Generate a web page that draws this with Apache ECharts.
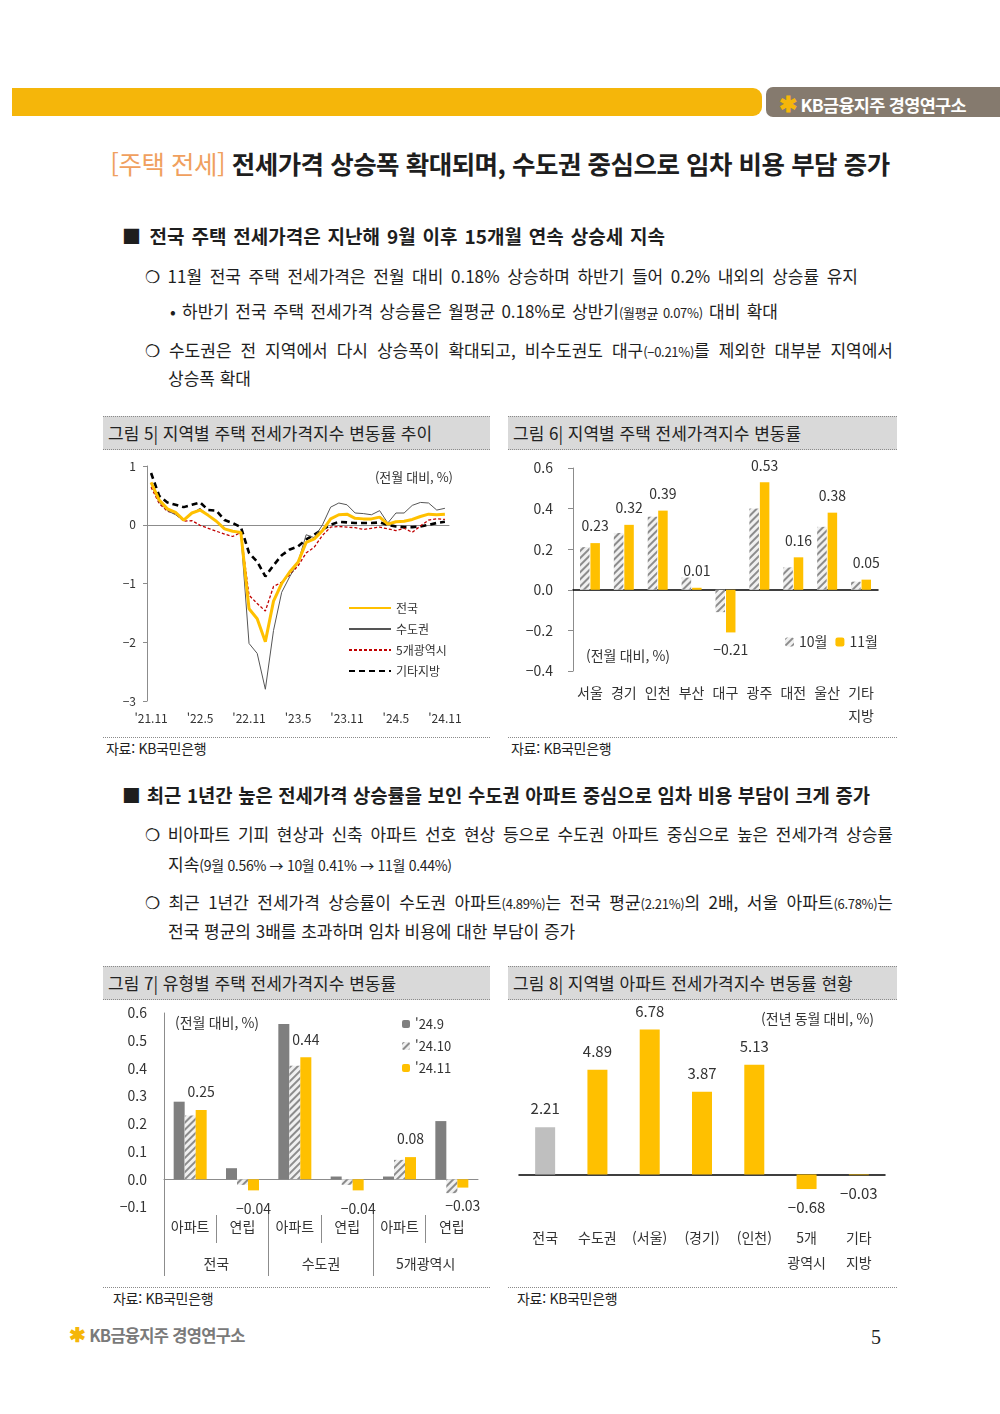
<!DOCTYPE html>
<html lang="ko">
<head>
<meta charset="utf-8">
<title>주택 전세</title>
<script src="https://cdn.jsdelivr.net/npm/echarts@6/dist/echarts.min.js"></script>
<style>
  html, body { margin: 0; padding: 0; background: #fff; }
  body {
    width: 1000px; height: 1414px; position: relative; overflow: hidden;
    font-family: "Noto Sans CJK KR", "Noto Sans", sans-serif; color: #1e1e1e;
  }
  .abs { position: absolute; white-space: nowrap; }
  .h2 { font-size: 19px; font-weight: 700; line-height: 26px; }
  .p { font-size: 17px; line-height: 24px; }
  .just { text-align: justify; text-align-last: justify; white-space: normal; }
  .p small { font-size: 13px; letter-spacing: -0.3px; }
  .cap {
    position: absolute; height: 34px; line-height: 32px; background: #d9d9d9;
    border-top: 1px dotted #8a8a8a; border-bottom: 1px dotted #8a8a8a;
    font-size: 17px; padding-left: 5px; box-sizing: border-box; color: #222;
  }
  .rule { position: absolute; height: 0; border-top: 1px dotted #8a8a8a; }
  .src { position: absolute; font-size: 14px; line-height: 18px; color: #222; letter-spacing: -0.3px; }
  .chart { position: absolute; }
</style>
</head>
<body>

<!-- header -->
<div class="abs" style="left:12px;top:88px;width:750px;height:28px;background:#F5B60A;border-radius:0 9px 9px 0"></div>
<div class="abs" style="left:766px;top:87px;width:234px;height:30px;background:#857A6E;border-radius:7px 0 0 7px"></div>
<div class="abs" style="left:779px;top:87px;line-height:30px;font-size:17.5px;font-weight:700;color:#fff;letter-spacing:-0.7px">
  <span style="color:#F5B60A;font-size:22px">✱</span> KB금융지주 경영연구소</div>

<!-- title -->
<div class="abs" style="left:0;top:145px;width:1000px;text-align:center;font-size:25.5px;font-weight:700;line-height:36px;letter-spacing:-0.5px">
  <span style="color:#F0A05E;font-weight:400">[주택 전세]</span> 전세가격 상승폭 확대되며, 수도권 중심으로 임차 비용 부담 증가</div>

<!-- section 1 -->
<div class="abs h2 just" style="left:122px;top:223px;width:543px">■ 전국 주택 전세가격은 지난해 9월 이후 15개월 연속 상승세 지속</div>
<div class="abs p just" style="left:145px;top:264px;width:713px">❍ 11월 전국 주택 전세가격은 전월 대비 0.18% 상승하며 하반기 들어 0.2% 내외의 상승률 유지</div>
<div class="abs p just" style="left:170px;top:299px;width:608px">• 하반기 전국 주택 전세가격 상승률은 월평균 0.18%로 상반기<small>(월평균 0.07%)</small> 대비 확대</div>
<div class="abs p just" style="left:145px;top:338px;width:748px">❍ 수도권은 전 지역에서 다시 상승폭이 확대되고, 비수도권도 대구<small>(−0.21%)</small>를 제외한 대부분 지역에서</div>
<div class="abs p" style="left:168px;top:366px">상승폭 확대</div>

<div class="cap" style="left:103px;top:416px;width:387px">그림 5| 지역별 주택 전세가격지수 변동률 추이</div>
<div class="cap" style="left:508px;top:416px;width:389px">그림 6| 지역별 주택 전세가격지수 변동률</div>
<div id="c5" class="chart" style="left:103px;top:452px;width:387px;height:284px"></div>
<div id="c6" class="chart" style="left:508px;top:452px;width:389px;height:284px"></div>
<div class="rule" style="left:103px;top:737px;width:387px"></div>
<div class="rule" style="left:508px;top:737px;width:389px"></div>
<div class="src" style="left:106px;top:739px">자료: KB국민은행</div>
<div class="src" style="left:511px;top:739px">자료: KB국민은행</div>

<!-- section 2 -->
<div class="abs h2 just" style="left:122px;top:782px;width:748px;font-size:18.8px">■ 최근 1년간 높은 전세가격 상승률을 보인 수도권 아파트 중심으로 임차 비용 부담이 크게 증가</div>
<div class="abs p just" style="left:145px;top:822px;width:748px">❍ 비아파트 기피 현상과 신축 아파트 선호 현상 등으로 수도권 아파트 중심으로 높은 전세가격 상승률</div>
<div class="abs p" style="left:168px;top:852px">지속<small style="font-size:14px">(9월 0.56% → 10월 0.41% → 11월 0.44%)</small></div>
<div class="abs p just" style="left:145px;top:890px;width:748px">❍ 최근 1년간 전세가격 상승률이 수도권 아파트<small>(4.89%)</small>는 전국 평균<small>(2.21%)</small>의 2배, 서울 아파트<small>(6.78%)</small>는</div>
<div class="abs p" style="left:168px;top:919px">전국 평균의 3배를 초과하며 임차 비용에 대한 부담이 증가</div>

<div class="cap" style="left:103px;top:966px;width:387px">그림 7| 유형별 주택 전세가격지수 변동률</div>
<div class="cap" style="left:508px;top:966px;width:389px">그림 8| 지역별 아파트 전세가격지수 변동률 현황</div>
<div id="c7" class="chart" style="left:103px;top:998px;width:387px;height:288px"></div>
<div id="c8" class="chart" style="left:508px;top:998px;width:389px;height:288px"></div>
<div class="rule" style="left:103px;top:1287px;width:387px"></div>
<div class="rule" style="left:508px;top:1287px;width:389px"></div>
<div class="src" style="left:113px;top:1289px">자료: KB국민은행</div>
<div class="src" style="left:517px;top:1289px">자료: KB국민은행</div>

<!-- footer -->
<div class="abs" style="left:69px;top:1323px;line-height:22px;font-size:16.5px;font-weight:700;color:#7a7a7a;letter-spacing:-0.7px">
  <span style="color:#F5B60A;font-size:20px">✱</span> KB금융지주 경영연구소</div>
<div class="abs" style="left:871px;top:1324px;font-family:'Liberation Serif',serif;font-size:20px;line-height:26px;color:#222">5</div>

<script>
// 그림 5: 지역별 주택 전세가격지수 변동률 추이 (전월 대비, %)
const months = [
  "'21.11", "'21.12", "'22.1", "'22.2", "'22.3", "'22.4", "'22.5", "'22.6", "'22.7", "'22.8",
  "'22.9", "'22.10", "'22.11", "'22.12", "'23.1", "'23.2", "'23.3", "'23.4", "'23.5", "'23.6",
  "'23.7", "'23.8", "'23.9", "'23.10", "'23.11", "'23.12", "'24.1", "'24.2", "'24.3", "'24.4",
  "'24.5", "'24.6", "'24.7", "'24.8", "'24.9", "'24.10", "'24.11"
];
const nationwide = [
  0.72, 0.42, 0.27, 0.21, 0.08, 0.20, 0.25, 0.16, 0.06, -0.07,
  -0.11, -0.13, -1.43, -1.60, -1.99, -1.30, -1.00, -0.80, -0.64, -0.30,
  -0.24, -0.10, 0.10, 0.17, 0.18, 0.11, 0.10, 0.10, 0.13, 0.01,
  0.05, 0.06, 0.09, 0.14, 0.18, 0.17, 0.18
];
const capitalArea = [
  0.70, 0.38, 0.24, 0.17, 0.07, 0.19, 0.28, 0.16, 0.06, -0.07,
  -0.11, -0.15, -2.02, -2.19, -2.80, -1.80, -1.15, -0.88, -0.64, -0.17,
  -0.22, 0.00, 0.30, 0.37, 0.34, 0.20, 0.19, 0.17, 0.24, 0.03,
  0.20, 0.20, 0.33, 0.38, 0.37, 0.25, 0.28
];
const metro5 = [
  0.64, 0.36, 0.23, 0.19, 0.06, 0.07, -0.01, -0.06, -0.11, -0.16,
  -0.20, -0.13, -1.20, -1.34, -1.47, -1.05, -0.98, -0.85, -0.70, -0.48,
  -0.38, -0.18, -0.04, -0.03, -0.04, -0.05, -0.08, -0.06, -0.04, -0.07,
  -0.10, -0.06, -0.13, -0.02, 0.08, 0.10, 0.09
];
const otherRegions = [
  0.88, 0.49, 0.38, 0.34, 0.30, 0.34, 0.38, 0.25, 0.24, 0.08,
  0.03, -0.04, -0.48, -0.63, -0.88, -0.69, -0.52, -0.42, -0.37, -0.25,
  -0.17, -0.08, 0.00, 0.05, 0.04, 0.03, 0.03, 0.03, 0.04, 0.00,
  -0.03, -0.04, -0.04, -0.03, 0.00, 0.03, 0.05
];

// 그림 6: 지역별 주택 전세가격지수 변동률
const regions6 = ['서울', '경기', '인천', '부산', '대구', '광주', '대전', '울산', '기타\n지방'];
const oct6 = [0.21, 0.28, 0.36, 0.06, -0.11, 0.40, 0.11, 0.31, 0.04];
const nov6 = [0.23, 0.32, 0.39, 0.01, -0.21, 0.53, 0.16, 0.38, 0.05];

// 그림 7: 유형별 주택 전세가격지수 변동률
const typeCats = ['아파트', '연립', '아파트', '연립', '아파트', '연립'];
const typeGroups = ['전국', '수도권', '5개광역시'];
const sep24 = [0.28, 0.04, 0.56, 0.01, 0.01, 0.21];
const oct24 = [0.23, -0.02, 0.41, -0.02, 0.07, -0.05];
const nov24 = [0.25, -0.04, 0.44, -0.04, 0.08, -0.03];

// 그림 8: 지역별 아파트 전세가격지수 변동률 현황 (전년 동월 대비)
const aptRegions = ['전국', '수도권', '(서울)', '(경기)', '(인천)', '5개\n광역시', '기타\n지방'];
const aptYoY = [2.21, 4.89, 6.78, 3.87, 5.13, -0.68, -0.03];

const FONT = '"Noto Sans CJK KR", "Noto Sans", sans-serif';
const YELLOW = '#FFC000';
const TXT = '#333';
const hatch = {
  symbol: 'rect', symbolSize: 1, color: '#8c8c8c',
  dashArrayX: [1, 0], dashArrayY: [1.6, 2.4], rotation: -Math.PI / 4
};
function minus(s) { return String(s).replace('-', '−'); }
function fix(v, d) { return minus(Number(v).toFixed(d)); }

// ---------- chart 5 ----------
const c5 = echarts.init(document.getElementById('c5'));
c5.setOption({
  animation: false,
  textStyle: { fontFamily: FONT },
  title: {
    text: '(전월 대비, %)', right: 32, top: 14,
    textStyle: { fontSize: 13, fontWeight: 'normal', color: TXT, fontFamily: FONT }
  },
  legend: {
    orient: 'vertical', left: 240, top: 145, itemWidth: 42, itemHeight: 12, itemGap: 9,
    itemStyle: { opacity: 0 },
    textStyle: { fontSize: 12, color: TXT, fontFamily: FONT },
    data: ['전국', '수도권', '5개광역시', '기타지방']
  },
  grid: { left: 44, right: 41, top: 14, bottom: 35 },
  xAxis: [
    {
      type: 'category', data: months, boundaryGap: true,
      axisLine: { onZero: true, lineStyle: { color: '#8c8c8c' } },
      axisTick: { interval: 2, length: 4, lineStyle: { color: '#8c8c8c' } },
      axisLabel: { show: false }
    },
    {
      type: 'category', data: months, position: 'bottom', boundaryGap: true,
      axisLine: { show: false, onZero: false }, axisTick: { show: false },
      axisLabel: { interval: 5, margin: 11, fontSize: 12, color: TXT }
    }
  ],
  yAxis: {
    type: 'value', min: -3, max: 1, interval: 1,
    axisLine: { show: true, lineStyle: { color: '#8c8c8c' } },
    axisTick: { show: true, length: 4, lineStyle: { color: '#8c8c8c' } },
    splitLine: { show: false },
    axisLabel: { margin: 11, fontSize: 12, color: TXT, formatter: v => minus(v) }
  },
  series: [
    { name: '기타지방', type: 'line', data: otherRegions, symbol: 'none', z: 3,
      lineStyle: { color: '#000', width: 2.6, type: [6, 4] }, itemStyle: { color: '#000' } },
    { name: '5개광역시', type: 'line', data: metro5, symbol: 'none', z: 4,
      lineStyle: { color: '#C00000', width: 1.3, type: [3, 2] }, itemStyle: { color: '#C00000' } },
    { name: '수도권', type: 'line', data: capitalArea, symbol: 'none', z: 5,
      lineStyle: { color: '#555', width: 1 }, itemStyle: { color: '#555' } },
    { name: '전국', type: 'line', data: nationwide, symbol: 'none', z: 6,
      lineStyle: { color: YELLOW, width: 3 }, itemStyle: { color: YELLOW } }
  ]
});

// ---------- chart 6 ----------
const c6 = echarts.init(document.getElementById('c6'));
c6.setOption({
  animation: false,
  textStyle: { fontFamily: FONT },
  title: {
    text: '(전월 대비, %)', left: 73, top: 192,
    textStyle: { fontSize: 14, fontWeight: 'normal', color: TXT, fontFamily: FONT }
  },
  legend: {
    left: 272, top: 178, itemWidth: 9, itemHeight: 9, itemGap: 8,
    textStyle: { fontSize: 14, color: TXT, fontFamily: FONT },
    data: ['10월', '11월']
  },
  grid: { left: 65, right: 19, top: 16, bottom: 65 },
  xAxis: [
    {
      type: 'category', data: regions6,
      axisLine: { onZero: true, lineStyle: { color: '#000', width: 1.5 } },
      axisTick: { show: false }, axisLabel: { show: false }
    },
    {
      type: 'category', data: regions6, position: 'bottom',
      axisLine: { show: false, onZero: false }, axisTick: { show: false },
      axisLabel: { margin: 10, fontSize: 14, color: TXT, lineHeight: 23, interval: 0 }
    }
  ],
  yAxis: {
    type: 'value', min: -0.4, max: 0.6, interval: 0.2,
    axisLine: { show: true, lineStyle: { color: '#8c8c8c' } },
    axisTick: { show: true, length: 5, lineStyle: { color: '#8c8c8c' } },
    splitLine: { show: false },
    axisLabel: { margin: 20, fontSize: 14, color: TXT, formatter: v => fix(v, 1) }
  },
  series: [
    { name: '10월', type: 'bar', data: oct6, barWidth: 9.5, barGap: '10%',
      itemStyle: { color: '#f0f0f0', decal: hatch } },
    { name: '11월', type: 'bar', barWidth: 9.5,
      data: nov6.map(v => v < 0 ? { value: v, label: { position: 'bottom' } } : v),
      itemStyle: { color: YELLOW },
      label: {
        show: true, fontSize: 14, color: TXT, distance: 10,
        position: 'top', formatter: p => fix(p.value, 2)
      }
    }
  ]
});

// ---------- chart 7 ----------
const c7 = echarts.init(document.getElementById('c7'));
const bounds7 = typeCats.concat(['']).map(() => '');
c7.setOption({
  animation: false,
  textStyle: { fontFamily: FONT },
  title: {
    text: '(전월 대비, %)', left: 67, top: 13,
    textStyle: { fontSize: 14, fontWeight: 'normal', color: TXT, fontFamily: FONT }
  },
  legend: {
    orient: 'vertical', left: 294, top: 13, itemWidth: 8, itemHeight: 8, itemGap: 6,
    textStyle: { fontSize: 13, color: TXT, lineHeight: 16, fontFamily: FONT },
    data: ["'24.9", "'24.10", "'24.11"]
  },
  grid: { left: 61, right: 12, top: 15, bottom: 79 },
  xAxis: [
    {
      type: 'category', data: typeCats,
      axisLine: { onZero: true, lineStyle: { color: '#8c8c8c' } },
      axisTick: { show: false }, axisLabel: { show: false }
    },
    {
      type: 'category', data: typeCats, position: 'bottom',
      axisLine: { show: false, onZero: false }, axisTick: { show: false },
      axisLabel: { margin: 13, fontSize: 14, color: TXT, interval: 0 }
    },
    {
      type: 'category', data: typeGroups, position: 'bottom',
      axisLine: { show: false, onZero: false }, axisTick: { show: false },
      axisLabel: { margin: 50, fontSize: 14, color: TXT, interval: 0 }
    },
    {
      type: 'category', data: bounds7, boundaryGap: false, position: 'bottom', offset: 8,
      axisLine: { show: false, onZero: false }, axisLabel: { show: false },
      axisTick: { show: true, length: 28, interval: i => i % 2 === 1, lineStyle: { color: '#8c8c8c' } }
    },
    {
      type: 'category', data: bounds7, boundaryGap: false, position: 'bottom',
      axisLine: { show: false, onZero: false }, axisLabel: { show: false },
      axisTick: { show: true, length: 69, interval: i => i % 2 === 0 && i < typeCats.length, lineStyle: { color: '#8c8c8c' } }
    }
  ],
  yAxis: {
    type: 'value', min: -0.1, max: 0.6, interval: 0.1,
    axisLine: { show: true, lineStyle: { color: '#8c8c8c' } },
    axisTick: { show: false }, splitLine: { show: false },
    axisLabel: { margin: 17, fontSize: 14, color: TXT, formatter: v => fix(v, 1) }
  },
  series: [
    { name: "'24.9", type: 'bar', data: sep24, barWidth: 11, barGap: '0%',
      itemStyle: { color: '#7f7f7f' } },
    { name: "'24.10", type: 'bar', data: oct24, barWidth: 11, barGap: '0%',
      itemStyle: { color: '#f0f0f0', decal: hatch } },
    { name: "'24.11", type: 'bar', barWidth: 11, barGap: '0%',
      data: nov24.map(v => v < 0 ? { value: v, label: { position: 'bottom' } } : v),
      itemStyle: { color: YELLOW },
      label: { show: true, position: 'top', distance: 11, fontSize: 14, color: TXT,
        formatter: p => fix(p.value, 2) } }
  ]
});

// ---------- chart 8 ----------
const c8 = echarts.init(document.getElementById('c8'));
c8.setOption({
  animation: false,
  textStyle: { fontFamily: FONT },
  title: {
    text: '(전년 동월 대비, %)', right: 18, top: 9,
    textStyle: { fontSize: 14, fontWeight: 'normal', color: TXT, fontFamily: FONT }
  },
  grid: { left: 11, right: 12, top: 16, bottom: 58 },
  xAxis: [
    {
      type: 'category', data: aptRegions,
      axisLine: { onZero: true, lineStyle: { color: '#000', width: 1.5 } },
      axisTick: { show: false }, axisLabel: { show: false }
    },
    {
      type: 'category', data: aptRegions, position: 'bottom',
      axisLine: { show: false, onZero: false }, axisTick: { show: false },
      axisLabel: { margin: -3, fontSize: 14, color: TXT, lineHeight: 25, interval: 0 }
    }
  ],
  yAxis: { type: 'value', min: -2.5, max: 7.5, interval: 2.5, show: false },
  series: [{
    type: 'bar', barWidth: 20,
    data: aptYoY.map((v, i) => ({
      value: v,
      itemStyle: { color: i === 0 ? '#BFBFBF' : YELLOW },
      label: { position: v < 0 ? 'bottom' : 'top' }
    })),
    label: { show: true, distance: 11, fontSize: 15, color: TXT, formatter: p => fix(p.value, 2) }
  }]
});
</script>
</body>
</html>
